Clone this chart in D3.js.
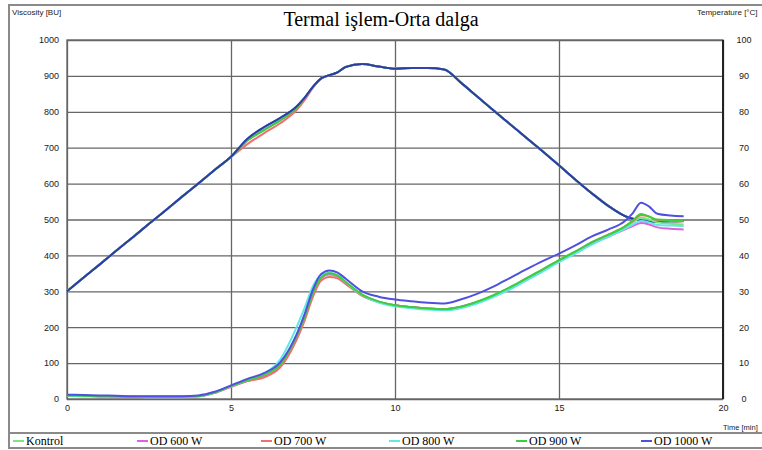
<!DOCTYPE html>
<html>
<head>
<meta charset="utf-8">
<script src="https://cdn.jsdelivr.net/npm/d3@7/dist/d3.min.js"></script>
<style>
	body { margin: 0; background: #fff; }
	.tick text { font-family: "Liberation Sans", Arial, sans-serif; font-size: 9px; fill: #1a1a1a; }
</style>
</head>
<body>
<div id="chart"></div>
<script>

// time axis (min)
var times = [0, 0.5, 1, 1.5, 2, 2.5, 3, 3.5, 4, 4.5, 5, 5.5, 6, 6.5, 7, 7.25, 7.5, 7.75, 8, 8.25, 8.5,
	9, 9.5, 10, 10.5, 11, 11.5, 12, 12.5, 13, 13.5, 14, 14.5, 15, 15.5, 16, 16.5, 17,
	17.25, 17.5, 17.75, 18, 18.4, 18.8];

var seriesNames = ['Kontrol', 'OD 600 W', 'OD 700 W', 'OD 800 W', 'OD 900 W', 'OD 1000 W'];
var seriesColors = ['#7ce87c', '#e060e0', '#f07070', '#60e8e8', '#3ccf3c', '#5050e0'];

// viscosity [BU]
var viscKontrol = [10, 9, 8, 7, 6, 6, 6, 6, 8, 18, 36, 52, 68, 98, 178, 232, 298, 338, 346, 340, 322,
	288, 270, 260, 255, 251, 249, 256, 270, 288, 310, 335, 360, 386, 410, 436, 456, 478, 492, 505, 500, 492, 488, 486];
var visc600 = [9, 8, 7, 6, 6, 5, 5, 5, 7, 17, 34, 50, 62, 90, 168, 225, 292, 336, 348, 342, 324,
	290, 271, 261, 256, 252, 250, 257, 270, 287, 308, 332, 357, 383, 407, 432, 452, 472, 482, 490, 486, 478, 474, 472];
var visc700 = [10, 9, 8, 7, 6, 6, 6, 6, 8, 17, 35, 50, 60, 88, 165, 220, 285, 330, 340, 336, 320,
	287, 270, 261, 256, 252, 250, 256, 270, 288, 310, 335, 360, 386, 410, 436, 458, 480, 495, 512, 508, 498, 496, 495];
var visc800 = [9, 8, 7, 6, 6, 5, 5, 5, 7, 18, 36, 53, 70, 110, 200, 255, 315, 346, 352, 344, 325,
	289, 269, 258, 253, 249, 247, 253, 266, 284, 305, 330, 355, 381, 405, 430, 452, 474, 486, 496, 492, 485, 483, 482];
var visc900 = [10, 9, 8, 7, 6, 6, 6, 6, 8, 18, 36, 52, 67, 96, 175, 230, 296, 338, 350, 344, 326,
	291, 272, 261, 256, 252, 250, 257, 271, 289, 311, 336, 361, 387, 411, 437, 457, 480, 497, 515, 508, 500, 498, 497];
var visc1000 = [12, 11, 10, 9, 8, 8, 8, 8, 10, 20, 38, 56, 72, 102, 180, 238, 305, 348, 358, 352, 335,
	300, 285, 277, 272, 268, 266, 277, 293, 313, 337, 361, 384, 405, 428, 453, 472, 495, 518, 547, 536, 516, 511, 509];

// temperature [°C]
var tempKontrol = [30, 33.8, 37.5, 41.3, 45, 48.8, 52.5, 56.3, 60, 63.8, 67.5, 72.3, 75.4, 78, 81.3, 83.9, 86.9, 89.3, 90.2, 91, 92.5,
	93.3, 92.6, 92, 92.2, 92.2, 91.8, 88.2, 84.3, 80.4, 76.6, 72.8, 69, 65.1, 61.1, 57.3, 53.8, 51, 50.2, 49.7, 49.4, 49.3, 49.5, 49.6];
var temp600 = [30, 33.8, 37.5, 41.3, 45, 48.8, 52.5, 56.3, 60, 63.8, 67.5, 72, 75, 77.6, 81, 83.8, 86.9, 89.3, 90.2, 91, 92.5,
	93.3, 92.6, 92, 92.2, 92.2, 91.8, 88.2, 84.3, 80.4, 76.6, 72.8, 69, 65.1, 61.1, 57.3, 53.8, 51, 50.2, 49.7, 49.4, 49.3, 49.5, 49.6];
var temp700 = [30, 33.8, 37.5, 41.3, 45, 48.8, 52.5, 56.3, 60, 63.8, 67.4, 71, 74, 76.8, 80.5, 83.3, 86.7, 89.2, 90.2, 91, 92.5,
	93.3, 92.6, 92, 92.2, 92.2, 91.8, 88.2, 84.3, 80.4, 76.6, 72.8, 69, 65.1, 61.1, 57.3, 53.8, 51, 50.2, 49.7, 49.4, 49.3, 49.5, 49.6];
var temp800 = [30, 33.8, 37.5, 41.3, 45, 48.8, 52.5, 56.3, 60, 63.8, 67.5, 72.4, 75.6, 78.2, 81.5, 84, 87, 89.3, 90.2, 91, 92.5,
	93.3, 92.6, 92, 92.2, 92.2, 91.8, 88.2, 84.3, 80.4, 76.6, 72.8, 69, 65.1, 61.1, 57.3, 53.8, 51, 50.2, 49.7, 49.4, 49.3, 49.5, 49.6];
var temp900 = [30, 33.8, 37.5, 41.3, 45, 48.8, 52.5, 56.3, 60, 63.8, 67.5, 72, 74.8, 77.6, 81.2, 83.9, 87, 89.3, 90.2, 91, 92.5,
	93.3, 92.6, 92, 92.2, 92.2, 91.8, 88.2, 84.3, 80.4, 76.6, 72.8, 69, 65.1, 61.1, 57.3, 53.8, 51, 50.2, 49.7, 49.4, 49.3, 49.5, 49.6];
var temp1000 = [30, 33.8, 37.5, 41.3, 45, 48.8, 52.5, 56.3, 60, 63.8, 67.5, 72.5, 75.7, 78.3, 81.5, 84, 87, 89.3, 90.2, 91, 92.5,
	93.3, 92.6, 92, 92.2, 92.2, 91.8, 88.2, 84.3, 80.4, 76.6, 72.8, 69, 65.1, 61.1, 57.3, 53.8, 51, 50.2, 49.7, 49.4, 49.3, 49.5, 49.6];

var viscTicks = [0, 100, 200, 300, 400, 500, 600, 700, 800, 900, 1000];
var tempTicks = [0, 10, 20, 30, 40, 50, 60, 70, 80, 90, 100];
var timeTicks = [0, 5, 10, 15, 20];

var viscData = [viscKontrol, visc600, visc700, visc800, visc900, visc1000];
var tempData = [tempKontrol, temp600, temp700, temp800, temp900, temp1000];

var W = 762, H = 450;
var margin = {top: 40, right: 39, bottom: 51, left: 67};
var width = W - margin.left - margin.right;
var height = H - margin.top - margin.bottom;

var svg = d3.select('#chart').append('svg')
	.attr('width', W)
	.attr('height', H)
	.style('display', 'block');

svg.append('rect').attr('width', W).attr('height', H).attr('fill', '#fff');

// outer frame + legend separator
svg.append('rect')
	.attr('x', 9).attr('y', 5)
	.attr('width', W + 10).attr('height', 443)
	.attr('fill', 'none').attr('stroke', '#8a8a8a').attr('stroke-width', 2);
svg.append('line')
	.attr('x1', 9).attr('x2', W).attr('y1', 433).attr('y2', 433)
	.attr('stroke', '#8a8a8a').attr('stroke-width', 2);

svg.append('text')
	.attr('x', 381).attr('y', 26)
	.attr('text-anchor', 'middle')
	.style('font-family', '"Liberation Serif", "Times New Roman", serif')
	.style('font-size', '20px')
	.text('Termal işlem-Orta dalga');

var smallFont = '"Liberation Sans", Arial, sans-serif';
svg.append('text').attr('x', 12).attr('y', 15)
	.style('font-family', smallFont).style('font-size', '8px').style('fill', '#222')
	.text('Viscosity [BU]');
svg.append('text').attr('x', 697).attr('y', 15)
	.style('font-family', smallFont).style('font-size', '8px').style('fill', '#222')
	.text('Temperature [°C]');
svg.append('text').attr('x', 723).attr('y', 430)
	.style('font-family', smallFont).style('font-size', '7.5px').style('fill', '#222')
	.text('Time [min]');

var main = svg.append('g')
	.attr('transform', 'translate(' + margin.left + ',' + margin.top + ')');

var x = d3.scaleLinear().domain([0, 20]).range([0, width]);
var y = d3.scaleLinear().domain([0, 1000]).range([height, 0]);
var yT = d3.scaleLinear().domain([0, 100]).range([height, 0]);

// grid
main.append('g')
	.attr('class', 'grid')
	.attr('transform', 'translate(0,' + height + ')')
	.call(d3.axisBottom(x).tickValues(timeTicks).tickSize(-height).tickPadding(6).tickFormat(d3.format('d')));
main.append('g')
	.attr('class', 'grid')
	.call(d3.axisLeft(y).tickValues(viscTicks).tickSize(-width).tickPadding(8).tickFormat(d3.format('d')));
main.append('g')
	.attr('class', 'grid-r')
	.attr('transform', 'translate(' + width + ',0)')
	.call(d3.axisRight(yT).tickValues(tempTicks).tickSize(0).tickPadding(21).tickFormat(d3.format('d')));

main.selectAll('.grid .domain, .grid-r .domain').remove();
main.selectAll('.grid line').attr('stroke', '#666').attr('stroke-width', 1.3);
main.selectAll('.grid-r text').attr('text-anchor', 'middle');

main.append('rect')
	.attr('width', width).attr('height', height)
	.attr('fill', 'none').attr('stroke', '#666').attr('stroke-width', 1.3);
main.append('line')
	.attr('x1', width).attr('x2', width).attr('y1', 0).attr('y2', height)
	.attr('stroke', '#222').attr('stroke-width', 2);

var viscLine = d3.line()
	.x(function (d, i) { return x(times[i]); })
	.y(function (d) { return y(d); })
	.curve(d3.curveMonotoneX);
var tempLine = d3.line()
	.x(function (d, i) { return x(times[i]); })
	.y(function (d) { return yT(d); })
	.curve(d3.curveMonotoneX);

for (var k = 0; k < seriesNames.length; k++) {
	main.append('path')
		.attr('d', tempLine(tempData[k]))
		.attr('fill', 'none')
		.attr('stroke', seriesColors[k])
		.attr('stroke-width', 2);
}
// overlap of all temperature traces shows as a dark blue line
main.append('path')
	.attr('d', tempLine(temp1000))
	.attr('fill', 'none')
	.attr('stroke', '#2a3f9a')
	.attr('stroke-width', 1.6);

for (var k = 0; k < seriesNames.length; k++) {
	main.append('path')
		.attr('d', viscLine(viscData[k]))
		.attr('fill', 'none')
		.attr('stroke', seriesColors[k])
		.attr('stroke-width', 2);
}

// legend
var legendX = [13, 137, 261, 389, 516, 641];
var legend = svg.selectAll('.legend')
	.data(seriesNames)
	.enter().append('g')
	.attr('class', 'legend')
	.attr('transform', function (d, i) { return 'translate(' + legendX[i] + ',441)'; });

legend.append('line')
	.attr('x1', 0).attr('x2', 11).attr('y1', 0).attr('y2', 0)
	.attr('stroke', function (d, i) { return seriesColors[i]; })
	.attr('stroke-width', 2);
legend.append('text')
	.attr('x', 13).attr('y', 4)
	.style('font-family', '"Liberation Serif", "Times New Roman", serif')
	.style('font-size', '12px')
	.text(function (d) { return d; });

</script>
</body>
</html>
